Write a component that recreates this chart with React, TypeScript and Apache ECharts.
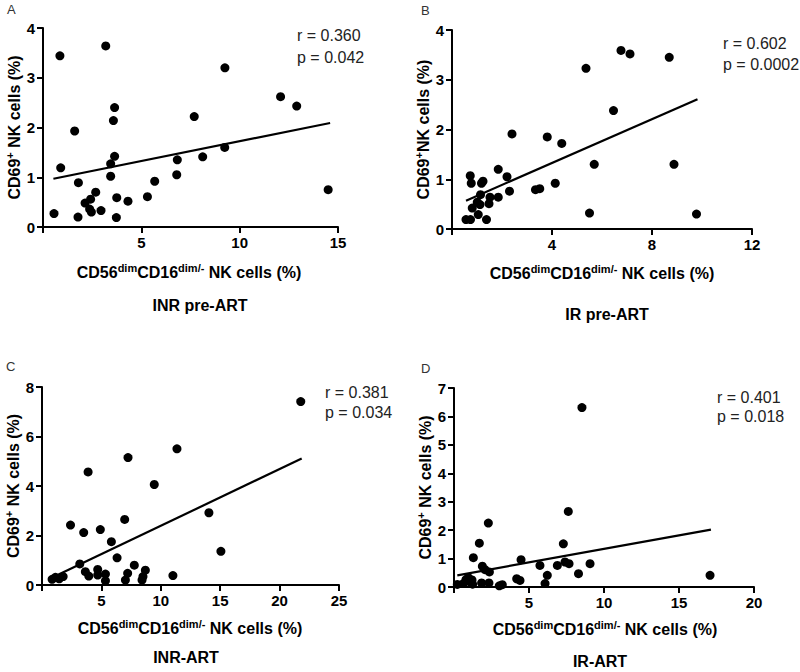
import React, { useEffect, useRef } from 'react';
import * as echarts from 'echarts';

const FONT = "'Liberation Sans', Arial, Helvetica, sans-serif";

// Panel A: INR pre-ART
const aX = [0.56, 0.86, 0.9, 1.61, 1.8, 1.78, 2.14, 2.42, 2.68, 2.37, 2.46, 2.95, 3.19, 3.44, 3.44, 3.58, 3.64, 3.64, 3.75, 3.73, 4.32, 5.31, 5.68, 6.8, 6.83, 7.69, 8.12, 9.24, 9.25, 12.08, 12.9, 14.5];
const aY = [0.27, 3.44, 1.19, 1.93, 0.89, 0.2, 0.48, 0.56, 0.7, 0.36, 0.3, 0.33, 3.64, 1.27, 1.02, 2.14, 2.4, 1.42, 0.59, 0.19, 0.52, 0.61, 0.92, 1.05, 1.35, 2.22, 1.41, 1.6, 3.2, 2.62, 2.43, 0.75];
const aFitX = [0.53, 14.6];
const aFitY = [0.97, 2.09];

// Panel B: IR pre-ART
const bX = [0.56, 0.74, 0.73, 0.77, 0.81, 1.01, 1.05, 1.12, 1.14, 1.18, 1.24, 1.38, 1.48, 1.52, 1.85, 1.85, 2.2, 2.3, 2.4, 3.34, 3.51, 3.81, 4.13, 4.39, 5.36, 5.5, 5.69, 6.46, 6.76, 7.12, 8.69, 8.88, 9.78];
const bY = [0.19, 0.19, 1.07, 0.92, 0.42, 0.54, 0.29, 0.49, 0.69, 0.92, 0.96, 0.19, 0.51, 0.64, 1.2, 0.64, 1.05, 0.76, 1.91, 0.79, 0.81, 1.85, 0.92, 1.72, 3.23, 0.32, 1.3, 2.38, 3.59, 3.52, 3.45, 1.3, 0.3];
const bFitX = [0.56, 9.82];
const bFitY = [0.57, 2.61];

// Panel C: INR-ART
const cX = [0.85, 1.13, 1.45, 1.78, 2.4, 3.18, 3.51, 3.65, 3.94, 3.88, 4.69, 4.69, 4.91, 5.34, 5.34, 5.84, 6.32, 6.96, 7.02, 7.21, 7.24, 7.77, 8.42, 8.5, 8.7, 9.45, 11.02, 11.36, 14.05, 15.06, 21.78];
const cY = [0.23, 0.31, 0.25, 0.34, 2.42, 0.85, 2.12, 0.54, 0.36, 4.57, 0.63, 0.4, 2.24, 0.44, 0.17, 1.75, 1.1, 2.65, 0.2, 0.47, 5.15, 0.8, 0.2, 0.34, 0.6, 4.06, 0.38, 5.5, 2.92, 1.36, 7.41];
const cFitX = [0.91, 21.86];
const cFitY = [0.31, 5.11];

// Panel D: IR-ART
const dX = [0.22, 0.62, 0.8, 0.96, 1.07, 1.2, 1.29, 1.24, 1.69, 1.84, 1.89, 2.07, 2.29, 2.33, 2.36, 3.02, 3.22, 4.18, 4.4, 4.47, 5.73, 6.07, 6.22, 6.89, 7.29, 7.4, 7.62, 7.67, 8.3, 8.53, 9.07, 17.07];
const dY = [0.09, 0.12, 0.26, 0.33, 0.18, 0.25, 1.03, 0.1, 1.54, 0.14, 0.73, 0.61, 2.25, 0.14, 0.53, 0.04, 0.08, 0.29, 0.23, 0.96, 0.76, 0.12, 0.41, 0.76, 1.52, 0.88, 2.66, 0.82, 0.47, 6.31, 0.82, 0.41];
const dFitX = [0.22, 17.13];
const dFitY = [0.41, 2.02];

const xMax = [15, 12, 25, 20];
const xStep = [5, 4, 5, 5];
const yMax = [4, 4, 8, 7];
const yStep = [1, 1, 2, 1];

const rTexts = ['r = 0.360', 'r = 0.602', 'r = 0.381', 'r = 0.401'];
const pTexts = ['p = 0.042', 'p = 0.0002', 'p = 0.034', 'p = 0.018'];
const panelLetters = ['A', 'B', 'C', 'D'];
const panelTitles = ['INR pre-ART', 'IR pre-ART', 'INR-ART', 'IR-ART'];
const yTitles = [
  '{a|CD69}{s|+}{a| NK cells (%)}',
  '{a|CD69}{s|+}{a|NK cells (%)}',
  '{a|CD69}{s|+}{a| NK cells (%)}',
  '{a|CD69}{s|+}{a| NK cells (%)}',
];
const xTitle = '{a|CD56}{s|dim}{a|CD16}{s|dim/-}{a| NK cells (%)}';

const zip = (xs: number[], ys: number[]) => xs.map((x, i) => [x, ys[i]]);

const grids = [
  { left: 43, top: 28, width: 295, height: 199 },
  { left: 452, top: 30, width: 300, height: 199 },
  { left: 42, top: 387, width: 297, height: 198 },
  { left: 454, top: 388, width: 300, height: 199 },
];

// layout of annotation texts (pixels)
const letterPos = [[7, 9], [421, 10], [6, 366], [421, 368]];
const rPos = [[297, 35], [723, 43], [325, 392], [717, 397]];
const pPos = [[297, 57], [723, 64], [325, 412], [717, 416]];
const xTitlePos = [[189, 271], [602, 272], [190, 627], [605, 628]];
const subTitlePos = [[200, 305], [607, 314], [186, 657], [600, 661]];

const richTitle = (size: number) => ({
  a: { fontSize: size, fontWeight: 'bold', fontFamily: FONT, color: '#000', verticalAlign: 'bottom', lineHeight: size + 2 },
  s: { fontSize: Math.round(size * 0.66), fontWeight: 'bold', fontFamily: FONT, color: '#000', verticalAlign: 'top' },
});

export default function App() {
  const ref = useRef<HTMLDivElement>(null);
  useEffect(() => {
    if (!ref.current) return;
    const chart = echarts.init(ref.current, null, { renderer: 'svg' });
    const scatters = [zip(aX, aY), zip(bX, bY), zip(cX, cY), zip(dX, dY)];
    const fits = [zip(aFitX, aFitY), zip(bFitX, bFitY), zip(cFitX, cFitY), zip(dFitX, dFitY)];

    const axisCommon = {
      axisLine: { show: true, onZero: false, lineStyle: { color: '#000', width: 2 } },
      axisTick: { show: true, length: 6, lineStyle: { color: '#000', width: 2 } },
      splitLine: { show: false },
    };

    const graphic: any[] = [];
    for (let i = 0; i < 4; i++) {
      graphic.push({
        type: 'text', x: letterPos[i][0], y: letterPos[i][1],
        style: { text: panelLetters[i], fontSize: 13, fontFamily: FONT, fill: '#333', align: 'left', verticalAlign: 'middle' },
      });
      graphic.push({
        type: 'text', x: rPos[i][0], y: rPos[i][1],
        style: { text: rTexts[i], fontSize: 16, fontFamily: FONT, fill: '#222', align: 'left', verticalAlign: 'middle' },
      });
      graphic.push({
        type: 'text', x: pPos[i][0], y: pPos[i][1],
        style: { text: pTexts[i], fontSize: 16, fontFamily: FONT, fill: '#222', align: 'left', verticalAlign: 'middle' },
      });
      graphic.push({
        type: 'text', x: xTitlePos[i][0], y: xTitlePos[i][1],
        style: { text: xTitle, rich: richTitle(16), fill: '#000', align: 'center', verticalAlign: 'middle' },
      });
      graphic.push({
        type: 'text', x: subTitlePos[i][0], y: subTitlePos[i][1],
        style: { text: panelTitles[i], fontSize: 16, fontWeight: 'bold', fontFamily: FONT, fill: '#000', align: 'center', verticalAlign: 'middle' },
      });
    }

    const option: any = {
      animation: false,
      backgroundColor: '#fff',
      grid: grids.map((g) => ({ ...g, containLabel: false })),
      xAxis: [0, 1, 2, 3].map((i) => ({
        type: 'value', gridIndex: i, min: 0, max: xMax[i], interval: xStep[i],
        ...axisCommon,
        axisLabel: {
          color: '#000', fontSize: 15, fontWeight: 'bold', fontFamily: FONT, margin: 8,
          formatter: (v: number) => (v === 0 ? '' : String(v)),
        },
      })),
      yAxis: [0, 1, 2, 3].map((i) => ({
        type: 'value', gridIndex: i, min: 0, max: yMax[i], interval: yStep[i],
        ...axisCommon,
        axisLabel: { color: '#000', fontSize: 15, fontWeight: 'bold', fontFamily: FONT, margin: 8 },
        name: yTitles[i],
        nameLocation: 'middle',
        nameRotate: 90,
        nameGap: 13,
        nameTextStyle: { rich: richTitle(16) },
      })),
      series: [
        ...scatters.map((d, i) => ({
          type: 'scatter', xAxisIndex: i, yAxisIndex: i, data: d,
          symbol: 'circle', symbolSize: 9, itemStyle: { color: '#000', opacity: 1 }, silent: true,
        })),
        ...fits.map((d, i) => ({
          type: 'line', xAxisIndex: i, yAxisIndex: i, data: d,
          symbol: 'none', showSymbol: false, lineStyle: { color: '#000', width: 2.2 }, silent: true,
        })),
      ],
      graphic,
    };
    chart.setOption(option);
    return () => chart.dispose();
  }, []);
  return (
    <div
      ref={ref}
      style={{ position: 'absolute', left: 0, top: 0, width: 800, height: 672, background: '#fff' }}
    />
  );
}
